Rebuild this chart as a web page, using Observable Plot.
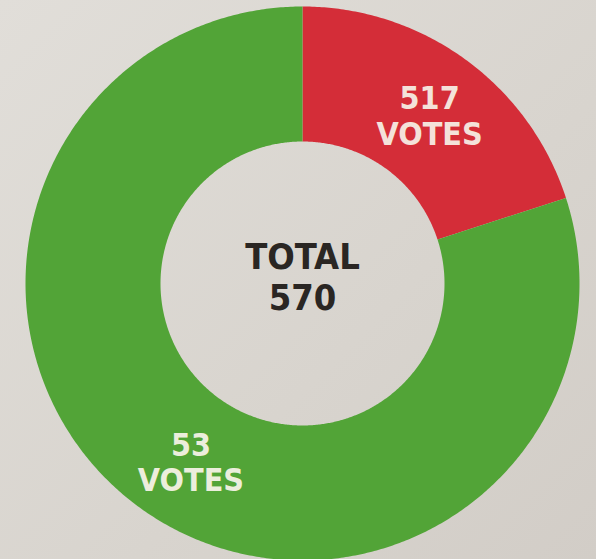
<!DOCTYPE html>
<html>
<head>
<meta charset="utf-8">
<script src="https://cdn.jsdelivr.net/npm/d3@7"></script>
<script src="https://cdn.jsdelivr.net/npm/@observablehq/plot@0.6"></script>
<style>
  html, body { margin: 0; padding: 0; }
  body { background: linear-gradient(135deg, #e1ded9 0%, #d8d4ce 60%, #d2cdc7 100%); width: 596px; height: 559px; overflow: hidden; }
  #chart svg { display: block; background: transparent; }
  #chart svg text { font-stretch: condensed; }
</style>
</head>
<body>
<div id="chart"></div>
<script>
// ---- data ----
const sliceNames = ["517 votes", "53 votes"];
const sliceVotes = [517, 53];
// share of the ring as actually printed in the original (mis-drawn) chart
const sliceDrawnShare = [0.2, 0.8];
const sliceLabels = ["517\nVOTES", "53\nVOTES"];
const sliceColors = ["#d42d38", "#52a437"];
const sliceTextColors = ["#f4e2da", "#eceedc"];
const centerLines = ["TOTAL", String(d3.sum(sliceVotes))];

// ---- geometry (layout) ----
const W = 596, H = 559;
const cx = 302, cy = 283, R = 277;   // pixels
const innerRatio = 142 / 277;
const labelRatio = 0.76;
const FONT = "'DejaVu Sans Condensed', 'Liberation Sans Narrow', 'Arial Narrow', sans-serif";

// slice angles (clockwise from 12 o'clock) from drawn shares
const pie = d3.pie().sort(null).value(d => d.share)
  .startAngle(0).endAngle(2 * Math.PI);
const slices = pie(sliceNames.map((n, i) => ({
  name: n, share: sliceDrawnShare[i], label: sliceLabels[i],
  color: sliceColors[i], textColor: sliceTextColors[i]
})));

// ring outline points per slice in data units (radius 1 = outer)
const ringPts = [];
for (const s of slices) {
  const a0 = s.startAngle, a1 = s.endAngle;
  const n = Math.max(2, Math.ceil((a1 - a0) / (Math.PI / 360)));
  for (let k = 0; k <= n; k++) {
    const a = a0 + (a1 - a0) * k / n;
    ringPts.push({ slice: s.data.name, x: Math.sin(a), y: Math.cos(a) });
  }
  for (let k = n; k >= 0; k--) {
    const a = a0 + (a1 - a0) * k / n;
    ringPts.push({ slice: s.data.name, x: innerRatio * Math.sin(a), y: innerRatio * Math.cos(a) });
  }
}

const labelPts = slices.map((s, i) => {
  const a = (s.startAngle + s.endAngle) / 2 + (i === 1 ? -0.07 : 0.02);
  return { x: labelRatio * Math.sin(a), y: labelRatio * Math.cos(a), text: s.data.label, color: s.data.textColor };
});

const chart = Plot.plot({
  width: W,
  height: H,
  margin: 0,
  x: { domain: [-cx / R, (W - cx) / R], axis: null },
  y: { domain: [-(H - cy) / R, cy / R], axis: null },
  color: { domain: sliceNames, range: sliceColors },
  style: { background: "transparent", overflow: "hidden" },
  marks: [
    Plot.line(ringPts, { x: "x", y: "y", z: "slice", fill: "slice", stroke: "none", curve: "linear-closed" }),
    Plot.text(labelPts, {
      x: "x", y: "y", text: "text", fill: d => d.color,
      fontSize: 32, fontWeight: "bold", fontFamily: FONT,
      lineHeight: 1.12, lineAnchor: "middle", textAnchor: "middle"
    }),
    Plot.text([centerLines.join("\n")], {
      x: 0, y: 7 / R, text: d => d, fill: "#2a2623",
      fontSize: 36, fontWeight: "bold", fontFamily: FONT,
      lineHeight: 1.15, lineAnchor: "middle", textAnchor: "middle"
    })
  ]
});
document.getElementById("chart").append(chart);
</script>
</body>
</html>
